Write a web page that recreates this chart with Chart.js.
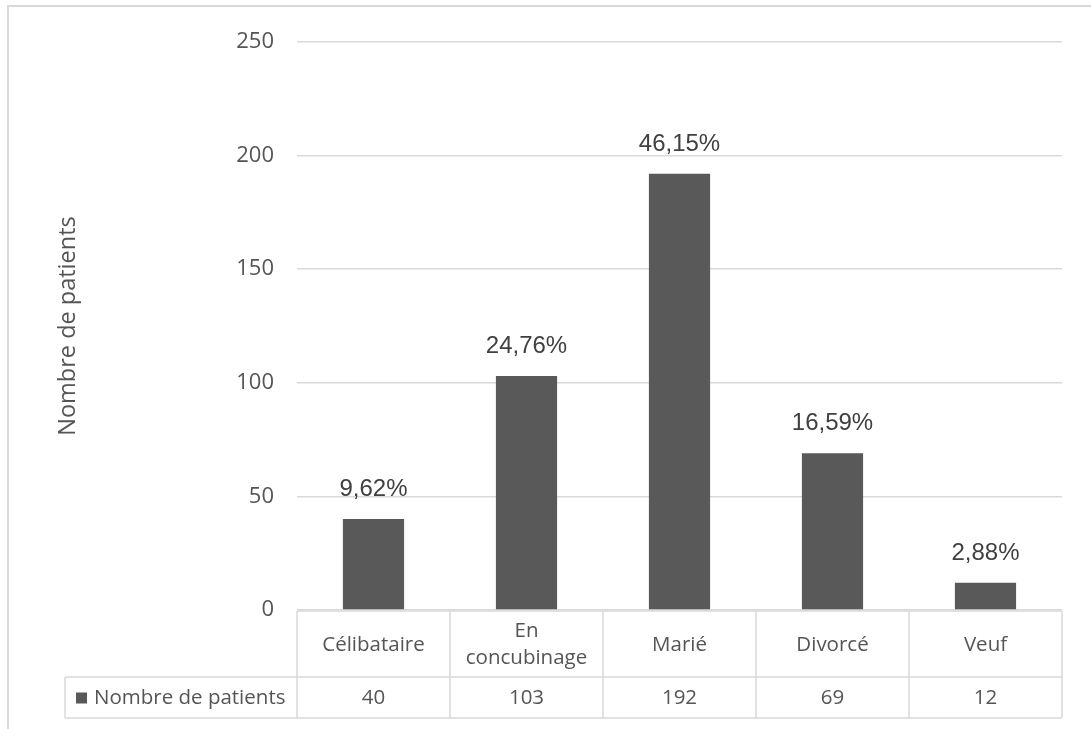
<!DOCTYPE html>
<html>
<head>
<meta charset="utf-8">
<script src="https://cdn.jsdelivr.net/npm/chart.js@4.4.1/dist/chart.umd.min.js"></script>
<style>
  html, body { margin: 0; padding: 0; background: #fff; }
  #wrap { position: relative; width: 1091px; height: 729px; overflow: hidden; }
  #frame { position: absolute; left: 7px; top: 5px; width: 1100px; height: 740px; border: 2px solid #d9d9d9; }
  canvas { position: absolute; left: 0; top: 0; }
</style>
</head>
<body>
<div id="wrap">
  <div id="frame"></div>
  <canvas id="chart" width="1091" height="729"></canvas>
</div>
<script>
const categories = [["Célibataire"], ["En", "concubinage"], ["Marié"], ["Divorcé"], ["Veuf"]];
const patients = [40, 103, 192, 69, 12];
const yTicks = [0, 50, 100, 150, 200, 250];
const seriesName = "Nombre de patients";

const total = patients.reduce((s, v) => s + v, 0);
const pct = (v) => (v / total * 100).toFixed(2).replace(".", ",") + "%";

const barColor = "#595959", lineColor = "#d9d9d9", textColor = "#555555";
const uiFont = "'Open Sans', sans-serif";

// percentage above each bar
const pctLabels = {
  id: "pctLabels",
  afterDatasetsDraw(chart) {
    const { ctx } = chart;
    const meta = chart.getDatasetMeta(0);
    ctx.save();
    ctx.font = "24px 'Liberation Sans', Arial, sans-serif";
    ctx.fillStyle = "#404040";
    ctx.textAlign = "center";
    ctx.textBaseline = "alphabetic";
    meta.data.forEach((bar, i) => {
      ctx.fillText(pct(patients[i]), bar.x, bar.y - 23);
    });
    ctx.restore();
  },
};

// data table under the plot, lined up with the category scale
const dataTable = {
  id: "dataTable",
  afterDraw(chart) {
    const { ctx, chartArea } = chart;
    const xs = chart.scales.x;
    const left = chartArea.left, right = chartArea.right;
    const top = chartArea.bottom + 1, mid = top + 66, bottom = mid + 41;
    const keyLeft = 65;
    const step = (right - left) / categories.length;

    ctx.save();
    ctx.strokeStyle = lineColor;
    ctx.lineWidth = 1.5;
    ctx.beginPath();
    ctx.moveTo(left, top); ctx.lineTo(right, top);
    ctx.moveTo(keyLeft, mid); ctx.lineTo(right, mid);
    ctx.moveTo(keyLeft, bottom); ctx.lineTo(right, bottom);
    ctx.moveTo(keyLeft, mid); ctx.lineTo(keyLeft, bottom);
    for (let i = 0; i <= categories.length; i++) {
      const x = left + i * step;
      ctx.moveTo(x, top); ctx.lineTo(x, bottom);
    }
    ctx.stroke();

    ctx.fillStyle = textColor;
    ctx.font = "20.5px " + uiFont;
    ctx.textAlign = "center";
    ctx.textBaseline = "middle";
    const rowMid1 = (top + mid) / 2 + 1, rowMid2 = (mid + bottom) / 2 + 1;
    categories.forEach((lines, i) => {
      const cx = xs.getPixelForValue(i);
      const lh = 27;
      lines.forEach((t, j) => {
        ctx.fillText(t, cx, rowMid1 + (j - (lines.length - 1) / 2) * lh);
      });
      ctx.fillText(String(patients[i]), cx, rowMid2);
    });

    // series key
    ctx.fillStyle = barColor;
    ctx.fillRect(keyLeft + 11, rowMid2 - 6, 11, 11);
    ctx.fillStyle = textColor;
    ctx.textAlign = "left";
    ctx.fillText(seriesName, keyLeft + 29, rowMid2);
    ctx.restore();
  },
};

new Chart(document.getElementById("chart"), {
  type: "bar",
  data: {
    labels: categories,
    datasets: [{
      label: seriesName,
      data: patients,
      backgroundColor: barColor,
      categoryPercentage: 1,
      barPercentage: 0.4,
    }],
  },
  options: {
    responsive: false,
    animation: false,
    devicePixelRatio: 1,
    layout: { padding: { left: 0, right: 29, top: 42, bottom: 119 } },
    plugins: { legend: { display: false }, tooltip: { enabled: false } },
    scales: {
      x: { display: false },
      y: {
        min: yTicks[0],
        max: yTicks[yTicks.length - 1],
        afterFit(scale) { scale.width = 297; },
        afterBuildTicks(scale) { scale.ticks = yTicks.map((v) => ({ value: v })); },
        border: { display: false },
        grid: { color: lineColor, lineWidth: 1.5, drawTicks: false },
        ticks: { color: textColor, padding: 23, font: { family: uiFont, size: 22 } },
        title: {
          display: true,
          text: seriesName,
          color: textColor,
          font: { family: uiFont, size: 23.5 },
          padding: { top: 54, bottom: 0 },
        },
      },
    },
  },
  plugins: [pctLabels, dataTable],
});
</script>
</body>
</html>
